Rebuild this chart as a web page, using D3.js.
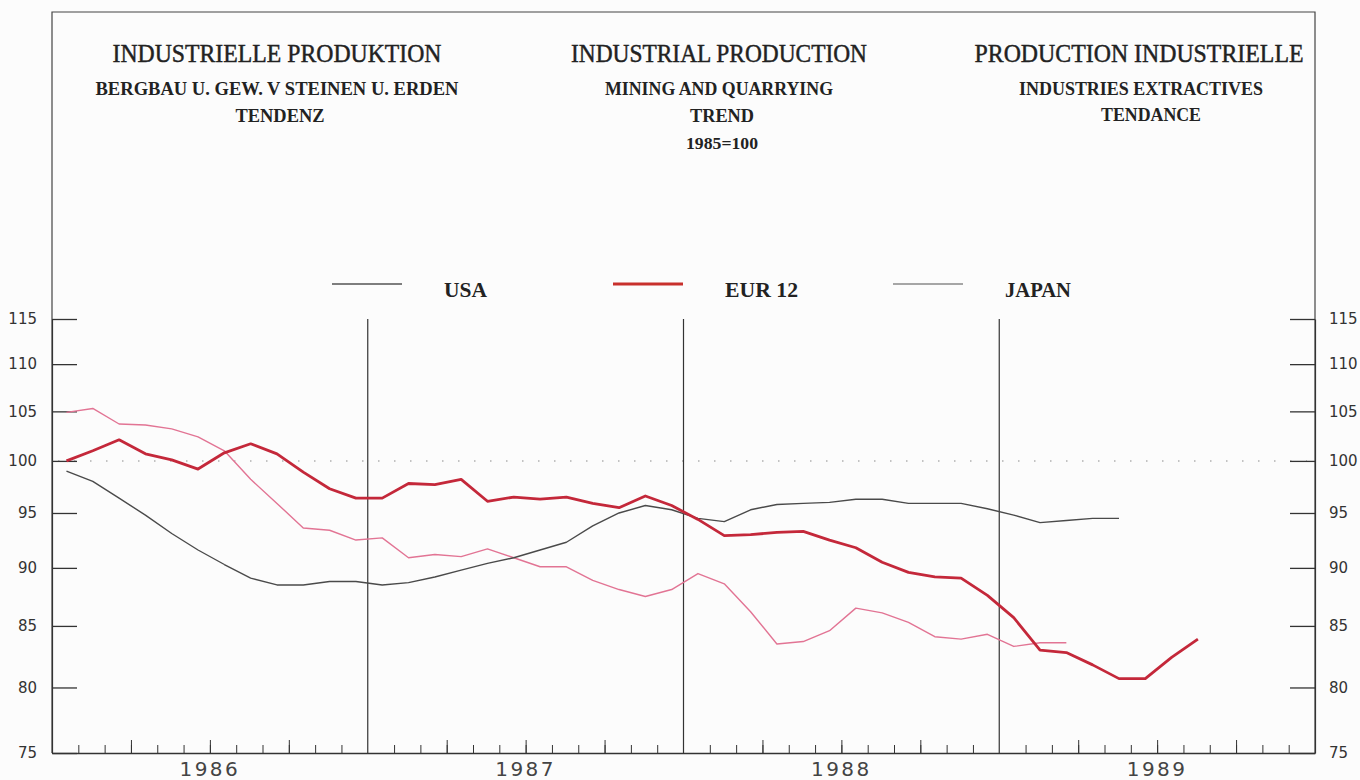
<!DOCTYPE html>
<html>
<head>
<meta charset="utf-8" />
<style>
  body { margin: 0; background: #fcfcfc; }
  svg { display: block; }
  .serif { font-family: "Liberation Serif", "DejaVu Serif", serif; fill: #222; }
  .num { font-family: "DejaVu Sans", sans-serif; font-size: 15px; fill: #333; }
  .axis path, .axis line { stroke: #333; }
</style>
</head>
<body>
<div id="chart"></div>
<script src="https://cdnjs.cloudflare.com/ajax/libs/d3/7.8.5/d3.min.js"></script>
<script>
// monthly trend values, starting January 1986 (1985 = 100)
var startYear = 1986;
var usa = [99.0, 98.0, 96.4, 94.8, 93.1, 91.6, 90.3, 89.1, 88.5, 88.5, 88.8, 88.8,
           88.5, 88.7, 89.2, 89.8, 90.4, 90.9, 91.6, 92.3, 93.8, 95.0, 95.7, 95.3,
           94.5, 94.2, 95.3, 95.8, 95.9, 96.0, 96.3, 96.3, 95.9, 95.9, 95.9, 95.4,
           94.8, 94.1, 94.3, 94.5, 94.5];
var eur12 = [100.0, 101.0, 102.1, 100.7, 100.1, 99.2, 100.8, 101.7, 100.7, 98.9, 97.3, 96.4,
             96.4, 97.8, 97.7, 98.2, 96.1, 96.5, 96.3, 96.5, 95.9, 95.5, 96.6, 95.7,
             94.4, 92.9, 93.0, 93.2, 93.3, 92.5, 91.8, 90.5, 89.6, 89.2, 89.1, 87.6,
             85.7, 83.0, 82.8, 81.8, 80.7, 80.7, 82.4, 83.9];
var japan = [104.9, 105.3, 103.7, 103.6, 103.2, 102.4, 101.0, 98.2, 95.9, 93.6, 93.4, 92.5,
             92.7, 90.9, 91.2, 91.0, 91.7, 90.9, 90.1, 90.1, 88.9, 88.1, 87.5, 88.1,
             89.5, 88.6, 86.2, 83.5, 83.7, 84.6, 86.5, 86.1, 85.3, 84.1, 83.9, 84.3,
             83.3, 83.6, 83.6];

var years = ["1986", "1987", "1988", "1989"];
var yTicks = [75, 80, 85, 90, 95, 100, 105, 110, 115];

var seriesNames = ["USA", "EUR 12", "JAPAN"];
var seriesData = [usa, eur12, japan];
var lineColors = ["#4a4a4a", "#c4283a", "#e27494"];
var lineWidths = [1.4, 2.8, 1.4];
var legendColors = ["#555555", "#c8302c", "#8a8a8a"];

var width = 1360, height = 780;
var plotLeft = 52, plotRight = 1315, plotTop = 319, plotBottom = 753;

var svg = d3.select("#chart").append("svg")
  .attr("width", width)
  .attr("height", height);

var x = d3.scaleLinear().domain([1986, 1990]).range([plotLeft, plotRight]);
var y = d3.scaleLog().domain([75, 115]).range([plotBottom, plotTop]);

// frame round the whole sheet
svg.append("path")
  .attr("d", "M" + plotLeft + "," + plotBottom + "V12H" + plotRight + "V" + plotBottom)
  .attr("fill", "none")
  .attr("stroke", "#444")
  .attr("stroke-width", 1.2);

// titles
var titles = [
  { cx: 277, lines: [
    { t: "INDUSTRIELLE PRODUKTION", y: 62, s: 25, w: 329, b: false },
    { t: "BERGBAU U. GEW. V STEINEN U. ERDEN", y: 95, s: 19, w: 363, b: true },
    { t: "TENDENZ", y: 122, s: 19, w: 89, b: true, cx: 280 }
  ]},
  { cx: 719, lines: [
    { t: "INDUSTRIAL PRODUCTION", y: 62, s: 25, w: 296, b: false },
    { t: "MINING AND QUARRYING", y: 95, s: 19, w: 228, b: true },
    { t: "TREND", y: 122, s: 19, w: 64, b: true, cx: 722 },
    { t: "1985=100", y: 149, s: 16, w: 72, b: true, cx: 722 }
  ]},
  { cx: 1139, lines: [
    { t: "PRODUCTION INDUSTRIELLE", y: 62, s: 25, w: 329, b: false },
    { t: "INDUSTRIES EXTRACTIVES", y: 95, s: 19, w: 244, b: true, cx: 1141 },
    { t: "TENDANCE", y: 121, s: 19, w: 100, b: true, cx: 1151 }
  ]}
];
titles.forEach(function(col) {
  col.lines.forEach(function(l) {
    svg.append("text")
      .attr("class", "serif")
      .attr("x", l.cx || col.cx)
      .attr("y", l.y)
      .attr("text-anchor", "middle")
      .attr("font-size", l.s)
      .attr("font-weight", l.b ? "bold" : "normal")
      .attr("stroke", l.b ? null : "#222")
      .attr("stroke-width", l.b ? null : 0.45)
      .attr("textLength", l.w)
      .attr("lengthAdjust", "spacingAndGlyphs")
      .text(l.t);
  });
});

// legend
var legendX = [332, 613, 893];
var legendLabelW = [43, 73, 66];
seriesNames.forEach(function(name, i) {
  svg.append("line")
    .attr("x1", legendX[i]).attr("x2", legendX[i] + 70)
    .attr("y1", 284).attr("y2", 284)
    .attr("stroke", legendColors[i])
    .attr("stroke-width", i === 1 ? 3 : 1.4);
  svg.append("text")
    .attr("class", "serif")
    .attr("x", legendX[i] + 112)
    .attr("y", 297)
    .attr("font-size", 21)
    .attr("font-weight", "bold")
    .attr("textLength", legendLabelW[i])
    .attr("lengthAdjust", "spacingAndGlyphs")
    .text(name);
});

// 1985 = 100 reference line
svg.append("line")
  .attr("x1", plotLeft + 6).attr("x2", plotRight - 8)
  .attr("y1", y(100)).attr("y2", y(100))
  .attr("stroke", "#b0b0b0")
  .attr("stroke-width", 1.5)
  .attr("stroke-dasharray", "1.5,14.5");

// y axes, ticks pointing inwards
var leftAxis = d3.axisLeft(y).tickValues(yTicks).tickFormat(d3.format("d"))
  .tickSize(-25).tickSizeOuter(0).tickPadding(15);
var gl = svg.append("g").attr("class", "axis")
  .attr("transform", "translate(" + plotLeft + ",0)")
  .call(leftAxis);
var rightAxis = d3.axisRight(y).tickValues(yTicks).tickFormat(d3.format("d"))
  .tickSize(-25).tickSizeOuter(0).tickPadding(14);
var gr = svg.append("g").attr("class", "axis")
  .attr("transform", "translate(" + plotRight + ",0)")
  .call(rightAxis);
[gl, gr].forEach(function(g) {
  g.selectAll("text").attr("class", "num").attr("font-size", null).attr("font-family", null);
  g.selectAll(".tick line").attr("stroke-width", 1.3);
  g.select(".domain").attr("stroke-width", 1.2);
});

// bottom axis: month ticks, longer quarter ticks
var monthIdx = d3.range(1, 48).filter(function(m) { return m % 12 !== 0; });
var months = monthIdx.map(function(m) { return startYear + m / 12; });
var quarters = monthIdx.filter(function(m) { return m % 3 === 0; })
  .map(function(m) { return startYear + m / 12; });
var gb = svg.append("g").attr("class", "axis")
  .attr("transform", "translate(0," + plotBottom + ")")
  .call(d3.axisBottom(x).tickValues(months).tickFormat("").tickSize(-8).tickSizeOuter(0));
gb.select(".domain").attr("stroke-width", 1.3);
svg.append("g").attr("class", "axis")
  .attr("transform", "translate(0," + plotBottom + ")")
  .call(d3.axisBottom(x).tickValues(quarters).tickFormat("").tickSize(-13).tickSizeOuter(0))
  .select(".domain").remove();

// year labels
svg.selectAll(".year")
  .data(years)
  .enter().append("text")
  .attr("class", "year")
  .attr("x", function(d) { return x(+d + 0.5); })
  .attr("y", 776)
  .attr("text-anchor", "middle")
  .attr("font-family", "DejaVu Sans, sans-serif")
  .attr("font-size", 20)
  .attr("letter-spacing", 2.5)
  .attr("fill", "#444")
  .text(function(d) { return d; });

// year separators
svg.selectAll(".sep")
  .data(years.slice(1))
  .enter().append("line")
  .attr("x1", function(d) { return x(+d); })
  .attr("x2", function(d) { return x(+d); })
  .attr("y1", y(115)).attr("y2", y(75))
  .attr("stroke", "#333")
  .attr("stroke-width", 1.2);

// series lines
var line = d3.line()
  .x(function(d, i) { return x(startYear + (i + 0.55) / 12); })
  .y(function(d) { return y(d); });

[2, 0, 1].forEach(function(i) {
  svg.append("path")
    .datum(seriesData[i])
    .attr("d", line)
    .attr("fill", "none")
    .attr("stroke", lineColors[i])
    .attr("stroke-width", lineWidths[i])
    .attr("stroke-linejoin", "round");
});
</script>
</body>
</html>
